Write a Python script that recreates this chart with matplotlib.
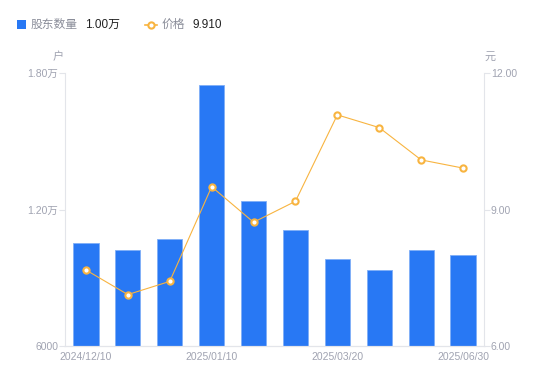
import matplotlib
matplotlib.use("Agg")
import matplotlib.pyplot as plt
from matplotlib.lines import Line2D
from matplotlib.patches import Rectangle

plt.rcParams['font.family'] = ['Liberation Sans', 'Noto Sans CJK SC', 'DejaVu Sans']

categories = ["2024/12/10", "", "", "2025/01/10", "", "", "2025/03/20", "", "", "2025/06/30"]
holders = [10530, 10220, 10700, 17460, 12380, 11090, 9830, 9340, 10220, 10000]
price = [7.67, 7.13, 7.42, 9.50, 8.72, 9.18, 11.08, 10.80, 10.09, 9.91]
left_ticks = [6000, 12000, 18000]
left_labels = ["6000", "1.20万", "1.80万"]
right_ticks = [6.0, 9.0, 12.0]
right_labels = ["6.00", "9.00", "12.00"]

BLUE = "#2878F4"
ORANGE = "#F8B440"
GRAY = "#A0A3B1"
AXC = "#E3E5EA"

fig = plt.figure(figsize=(5.5, 3.81), dpi=100)
ax = fig.add_axes([65/550, 1-346/381, (484-65)/550, (346-73)/381])
x = list(range(len(categories)))
ax.bar(x, holders, width=0.6, color=BLUE, edgecolor="#7FAEF7", linewidth=0.6, zorder=2)
ax.set_xlim(-0.5, len(categories)-0.5)
ax.set_ylim(6000, 18000)
ax.set_yticks(left_ticks)
ax.set_yticklabels(left_labels)
tick_idx = [i for i, c in enumerate(categories) if c]
ax.set_xticks(tick_idx)
ax.set_xticklabels([categories[i] for i in tick_idx])

ax2 = ax.twinx()
ax2.plot(x, price, color=ORANGE, linewidth=0.8, marker="o", markersize=4.5,
         markerfacecolor="white", markeredgecolor=ORANGE, markeredgewidth=1.5, zorder=3)
ax2.set_ylim(6, 12)
ax2.set_yticks(right_ticks)
ax2.set_yticklabels(right_labels)

for a in (ax, ax2):
    a.spines["top"].set_visible(False)
    a.spines["left"].set_color(AXC)
    a.spines["right"].set_color(AXC)
    a.spines["bottom"].set_color(AXC)
    a.tick_params(axis="y", colors=AXC, labelcolor=GRAY, labelsize=7.5, length=4, width=0.8, pad=1)
    a.tick_params(axis="x", length=0, labelcolor=GRAY, labelsize=7.5, pad=4)
ax.spines["right"].set_visible(False)
ax2.spines["left"].set_visible(False)

fig.text(58/550, 1-57/381, "户", color=GRAY, fontsize=8, ha="center", va="center")
fig.text(490/550, 1-57/381, "元", color=GRAY, fontsize=8, ha="center", va="center")

# legend
fig.patches.append(Rectangle((17/550, 1-29/381), 9/550, 9/381, transform=fig.transFigure,
                             facecolor=BLUE, edgecolor="none", figure=fig))
fig.text(31/550, 1-24.5/381, "股东数量", color="#8A8D99", fontsize=8.5, va="center")
fig.text(85/550, 1-24.5/381, "1.00万", color="#222222", fontsize=8.5, va="center")
fig.lines.append(Line2D([145/550, 157/550], [1-24.5/381, 1-24.5/381], transform=fig.transFigure,
                        color=ORANGE, linewidth=1.2))
fig.lines.append(Line2D([151/550], [1-24.5/381], transform=fig.transFigure, color=ORANGE,
                        marker="o", markersize=4.5, markerfacecolor="white",
                        markeredgecolor=ORANGE, markeredgewidth=1.5, linestyle="none"))
fig.text(162/550, 1-24.5/381, "价格", color="#8A8D99", fontsize=8.5, va="center")
fig.text(192/550, 1-24.5/381, "9.910", color="#222222", fontsize=8.5, va="center")

fig.savefig("out.png", dpi=100)
